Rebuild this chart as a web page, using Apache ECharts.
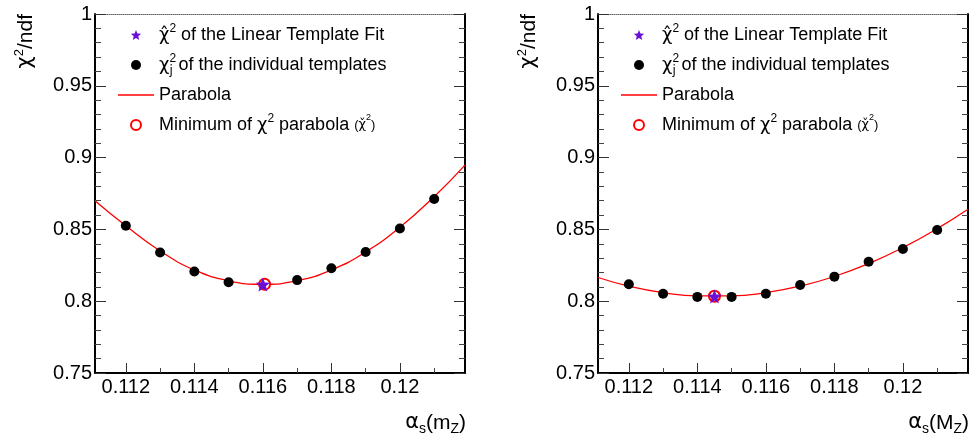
<!DOCTYPE html>
<html>
<head>
<meta charset="utf-8">
<script src="https://cdn.jsdelivr.net/npm/echarts@6/dist/echarts.min.js"></script>
<style>
  html, body { margin: 0; padding: 0; background: #fff; }
  #main { width: 969px; height: 440px; }
</style>
</head>
<body>
<div id="main"></div>
<script>
// template points (alpha_s, chi2/ndf)
var leftTplX = [0.112, 0.113, 0.114, 0.115, 0.117, 0.118, 0.119, 0.120, 0.121]
var leftTplY = [0.8526, 0.8339, 0.8207, 0.8132, 0.8147, 0.8230, 0.8343, 0.8506, 0.8712]
var rightTplX = [0.112, 0.113, 0.114, 0.115, 0.116, 0.117, 0.118, 0.119, 0.120, 0.121]
var rightTplY = [0.8118, 0.8052, 0.8030, 0.8030, 0.8052, 0.8113, 0.8171, 0.8275, 0.8363, 0.8496]

// parabola
var curveX = [0.1111, 0.112, 0.113, 0.114, 0.115, 0.116, 0.117, 0.118, 0.119, 0.120, 0.121, 0.1219]
var leftCurveY = [0.870, 0.8525, 0.8350, 0.8218, 0.8142, 0.8118, 0.8143, 0.8218, 0.8343, 0.8515, 0.8728, 0.8948]
var rightCurveY = [0.8165, 0.8105, 0.8060, 0.8037, 0.8037, 0.8060, 0.8105, 0.8172, 0.8262, 0.8373, 0.8505, 0.8640]

// linear template fit result and parabola minimum
var leftFit = [0.116, 0.8116]
var leftMin = [0.11605, 0.8118]
var rightFit = [0.1145, 0.8033]
var rightMin = [0.1145, 0.8035]

var xMajorTicks = [0.112, 0.114, 0.116, 0.118, 0.12]
var xMinorTicks = [0.113, 0.115, 0.117, 0.119, 0.121]
var xRange = [0.1111, 0.1219]
var yRange = [0.75, 1]

var element = document.querySelector('#main')
var myChart = echarts.init(element)

var zip = function(xs, ys) {
    var out = []
    for (var i = 0; i < xs.length; i++) {
        out.push([xs[i], ys[i]])
    }
    return out
}

var starPath = 'path://M50,0 L63,33 L98,35 L71,58 L80,93 L50,74 L20,93 L29,58 L2,35 L37,33 Z'
var linePath = 'path://M0,0 L36,0 L36,1.3 L0,1.3 Z'
var purple = '#6a0fd6'
var sans = '"Liberation Sans", Arial, sans-serif'
var greek = '"DejaVu Sans", sans-serif'

var richText = {
    t: {fontFamily: sans, fontSize: 18, color: '#000', lineHeight: 24},
    s: {fontFamily: sans, fontSize: 13, color: '#000', lineHeight: 24},
    g: {fontFamily: greek, fontSize: 18, color: '#000', lineHeight: 24},
    gs: {fontFamily: greek, fontSize: 13, color: '#000', lineHeight: 24},
    sup: {fontFamily: sans, fontSize: 12, color: '#000', lineHeight: 13, verticalAlign: 'top'},
    supz: {fontFamily: sans, fontSize: 12, color: '#000', lineHeight: 13, verticalAlign: 'top', width: 0},
    sups: {fontFamily: sans, fontSize: 9, color: '#000', lineHeight: 15, verticalAlign: 'top'},
    sub: {fontFamily: greek, fontSize: 12, color: '#000', lineHeight: 10, verticalAlign: 'bottom', width: 9}
}

var legendText = {
    fit: '{g|\u03C7\u0302}{sup|2}{t| of the Linear Template Fit}',
    tmpl: '{g|\u03C7}{supz|2}{sub|j}{t|of the individual templates}',
    parab: '{t|Parabola}',
    min: '{t|Minimum of }{g|\u03C7}{sup|2}{t| parabola }{s|(}{gs|\u03C7\u030C}{sups|2}{s|)}'
}

var makeLegend = function(left) {
    return {
        orient: 'vertical',
        left: left,
        top: 18,
        itemWidth: 36,
        itemHeight: 10,
        itemGap: 9,
        selectedMode: false,
        data: [
            {name: 'fit'},
            {name: 'tmpl'},
            {name: 'parab', icon: linePath},
            {name: 'min'}
        ],
        formatter: function(name) {
            return legendText[name]
        },
        textStyle: {rich: richText}
    }
}

var makeX = function(grid) {
    return [
        {
            gridIndex: grid, type: 'value', position: 'bottom',
            min: xRange[0], max: xRange[1],
            axisLine: {lineStyle: {color: '#000', width: 2}},
            axisTick: {inside: true, length: 10, customValues: xMajorTicks, lineStyle: {color: '#333'}},
            axisLabel: {customValues: xMajorTicks, margin: 4, color: '#000', fontSize: 20, fontFamily: sans},
            splitLine: {show: false}
        },
        {
            gridIndex: grid, type: 'value', position: 'bottom',
            min: xRange[0], max: xRange[1],
            axisLine: {show: false},
            axisTick: {inside: true, length: 5, customValues: xMinorTicks, lineStyle: {color: '#444'}},
            axisLabel: {show: false, customValues: xMinorTicks},
            splitLine: {show: false}
        },
        {
            gridIndex: grid, type: 'value', position: 'top',
            min: xRange[0], max: xRange[1],
            axisLine: {lineStyle: {color: '#666', width: 1, type: 'dotted'}},
            axisTick: {show: false},
            axisLabel: {show: false},
            splitLine: {show: false}
        }
    ]
}

var makeY = function(grid) {
    return [
        {
            gridIndex: grid, type: 'value', position: 'left',
            min: yRange[0], max: yRange[1], interval: 0.05,
            axisLine: {show: true, lineStyle: {color: '#000', width: 2}},
            axisTick: {inside: true, length: 11, lineStyle: {color: '#333'}},
            minorTick: {show: true, splitNumber: 5, length: 6, lineStyle: {color: '#444'}},
            axisLabel: {margin: 3, color: '#000', fontSize: 20, fontFamily: sans},
            splitLine: {show: false}
        },
        {
            gridIndex: grid, type: 'value', position: 'right',
            min: yRange[0], max: yRange[1], interval: 0.05,
            axisLine: {show: true, lineStyle: {color: '#000', width: 2}},
            axisTick: {inside: true, length: 11, lineStyle: {color: '#333'}},
            minorTick: {show: true, splitNumber: 5, length: 6, lineStyle: {color: '#444'}},
            axisLabel: {show: false},
            splitLine: {show: false}
        }
    ]
}

var makeSeries = function(xIdx, yIdx, tplX, tplY, curveY, fit, min) {
    return [
        {
            name: 'parab', type: 'line', xAxisIndex: xIdx, yAxisIndex: yIdx,
            data: zip(curveX, curveY), smooth: true, symbol: 'none',
            lineStyle: {color: '#ff0000', width: 1.3}, itemStyle: {color: '#ff0000'}, z: 2
        },
        {
            name: 'tmpl', type: 'scatter', xAxisIndex: xIdx, yAxisIndex: yIdx,
            data: zip(tplX, tplY), symbol: 'circle', symbolSize: 10,
            itemStyle: {color: '#000', opacity: 1}, z: 3
        },
        {
            name: 'min', type: 'scatter', xAxisIndex: xIdx, yAxisIndex: yIdx,
            data: [min], symbol: 'emptyCircle', symbolSize: 11,
            itemStyle: {color: '#ff0000', borderColor: '#ff0000', borderWidth: 1.2, opacity: 1}, z: 4
        },
        {
            name: 'fit', type: 'scatter', xAxisIndex: xIdx, yAxisIndex: yIdx,
            data: [fit], symbol: starPath, symbolSize: 14,
            itemStyle: {color: purple, opacity: 1}, z: 5
        }
    ]
}

var axisTitle = function(x, y, text, rotated) {
    return {
        type: 'text',
        x: x,
        y: y,
        rotation: rotated ? Math.PI / 2 : 0,
        style: {
            text: text,
            align: 'right',
            verticalAlign: 'middle',
            rich: {
                t: {fontFamily: sans, fontSize: 21, fill: '#000', lineHeight: 26},
                g: {fontFamily: greek, fontSize: 21, fill: '#000', lineHeight: 26},
                sup: {fontFamily: sans, fontSize: 13, fill: '#000', lineHeight: 14, verticalAlign: 'top'},
                sub: {fontFamily: sans, fontSize: 14, fill: '#000', lineHeight: 12, verticalAlign: 'bottom'}
            }
        }
    }
}

var option = {
    animation: false,
    backgroundColor: '#fff',
    grid: [
        {left: 95, top: 14, width: 370, height: 359},
        {left: 598, top: 14, width: 370, height: 359}
    ],
    legend: [makeLegend(113), makeLegend(616)],
    xAxis: makeX(0).concat(makeX(1)),
    yAxis: makeY(0).concat(makeY(1)),
    series: makeSeries(0, 0, leftTplX, leftTplY, leftCurveY, leftFit, leftMin)
        .concat(makeSeries(3, 2, rightTplX, rightTplY, rightCurveY, rightFit, rightMin)),
    graphic: [
        axisTitle(26, 14, '{g|\u03C7}{sup|2}{t|/ndf}', true),
        axisTitle(529, 14, '{g|\u03C7}{sup|2}{t|/ndf}', true),
        axisTitle(466, 423, '{g|\u03B1}{sub|s}{t|(m}{sub|Z}{t|)}', false),
        axisTitle(969, 423, '{g|\u03B1}{sub|s}{t|(M}{sub|Z}{t|)}', false)
    ]
}

myChart.setOption(option)
</script>
</body>
</html>
